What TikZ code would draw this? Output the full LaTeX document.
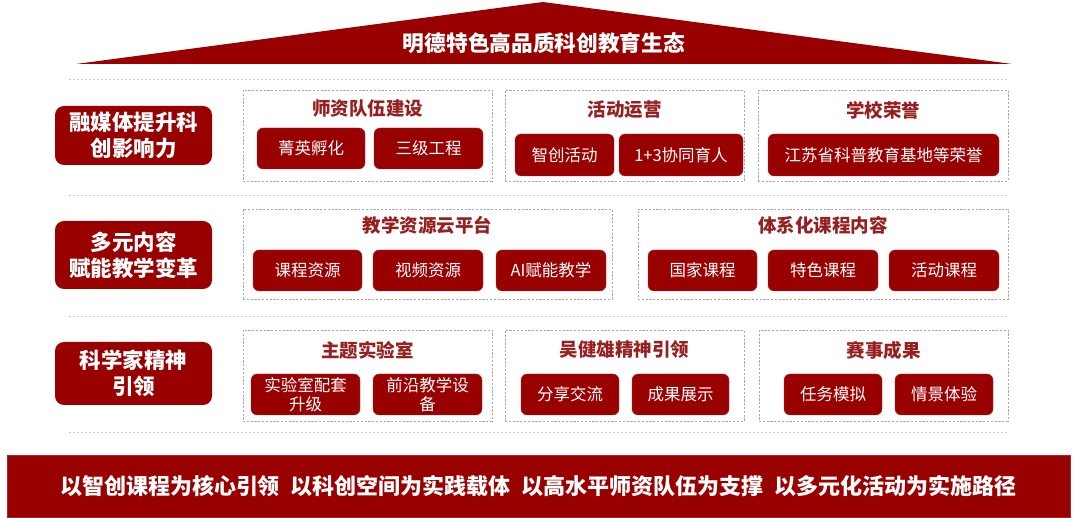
\documentclass[tikz,border=0pt]{standalone}
\usepackage{fontspec}
\setmainfont{Liberation Sans}
\newfontfamily\cjk{Noto Sans CJK SC}
\definecolor{dred}{HTML}{990000}
\definecolor{tred}{HTML}{962020}
\definecolor{sepgray}{HTML}{C8C8C8}
\definecolor{boxgray}{HTML}{A8A8A8}
\tikzset{
  roofpart/.style={fill=dred,draw=none},
  sepline/.style={draw=sepgray,line width=0.9pt,dash pattern=on 2pt off 2pt},
  grpbox/.style={draw=boxgray,line width=0.8pt,dash pattern=on 2.2pt off 1.6pt,inner sep=0pt,rectangle},
  grptitle/.style={text=tred,font=\cjk\bfseries\fontsize{18.5}{22}\selectfont,inner sep=0pt},
  lbl/.style={fill=dred,rounded corners=9pt,inner sep=0pt,text=white,align=center,font=\cjk\bfseries\fontsize{21.5}{26}\selectfont,minimum width=157pt},
  btn/.style={fill=dred,draw=dred!80!white,line width=0.4pt,rounded corners=6pt,inner sep=0pt,text=white,align=center,font=\cjk\fontsize{16.5}{20}\selectfont},
  bar/.style={fill=dred,draw=dred!85!white,line width=0.5pt,inner sep=0pt,text=white,font=\cjk\bfseries\fontsize{22}{26}\selectfont}
}
\begin{document}
\begin{tikzpicture}[x=1pt,y=-1pt]
\useasboundingbox (0,0) rectangle (1080,518);
% roof
\coordinate (roofL) at (76,64);
\coordinate (roofT) at (543,2);
\coordinate (roofR) at (1012,64);
\fill[roofpart] (roofL) -- (roofT) -- (roofR) -- cycle;
\node[text=white,font=\cjk\bfseries\fontsize{21.7}{24}\selectfont,inner sep=0pt] (rooftitle) at (544,43) {明德特色高品质科创教育生态};
% separators
\foreach \yy in {79,195,316,432} {\draw[sepline] (69,\yy) -- (1008,\yy);}
% row 1
\node[lbl,minimum height=59pt] (L1) at (133.5,135.5) {融媒体提升科\\创影响力};
\node[grpbox,minimum width=249pt,minimum height=91pt] (G11) at (367.5,135.5) {};
\node[grptitle] (T11) at (367.5,109) {师资队伍建设};
\node[btn,minimum width=108pt,minimum height=41pt] (B111) at (311,148.5) {菁英孵化};
\node[btn,minimum width=109pt,minimum height=41pt] (B112) at (428.5,148.5) {三级工程};
\node[grpbox,minimum width=239pt,minimum height=91pt] (G12) at (624.5,135.5) {};
\node[grptitle] (T12) at (624.5,110) {活动运营};
\node[btn,minimum width=99pt,minimum height=42pt] (B121) at (564.5,155) {智创活动};
\node[btn,minimum width=124pt,minimum height=42pt] (B122) at (681,155) {1+3协同育人};
\node[grpbox,minimum width=250pt,minimum height=91pt] (G13) at (883,135.5) {};
\node[grptitle] (T13) at (883,110) {学校荣誉};
\node[btn,minimum width=231pt,minimum height=42pt] (B131) at (883.5,155) {江苏省科普教育基地等荣誉};
% row 2
\node[lbl,minimum height=68pt] (L2) at (133.5,255) {多元内容\\赋能教学变革};
\node[grpbox,minimum width=369pt,minimum height=90pt] (G21) at (427.5,254) {};
\node[grptitle] (T21) at (427.5,225) {教学资源云平台};
\node[btn,minimum width=109pt,minimum height=41pt] (B211) at (307.5,270.5) {课程资源};
\node[btn,minimum width=110pt,minimum height=41pt] (B212) at (428,270.5) {视频资源};
\node[btn,minimum width=110pt,minimum height=41pt] (B213) at (551,270.5) {AI赋能教学};
\node[grpbox,minimum width=370pt,minimum height=90pt] (G22) at (823,254) {};
\node[grptitle] (T22) at (823,225) {体系化课程内容};
\node[btn,minimum width=109pt,minimum height=41pt] (B221) at (702.5,270.5) {国家课程};
\node[btn,minimum width=110pt,minimum height=41pt] (B222) at (823,270.5) {特色课程};
\node[btn,minimum width=110pt,minimum height=41pt] (B223) at (944,270.5) {活动课程};
% row 3
\node[lbl,minimum height=63pt] (L3) at (133.5,373.5) {科学家精神\\引领};
\node[grpbox,minimum width=249pt,minimum height=91pt] (G31) at (367.5,375.5) {};
\node[grptitle] (T31) at (367.5,350) {主题实验室};
\node[btn,minimum width=109pt,minimum height=41pt,font=\cjk\fontsize{16.5}{19.5}\selectfont] (B311) at (305.5,394.5) {实验室配套\\升级};
\node[btn,minimum width=109pt,minimum height=41pt,font=\cjk\fontsize{16.5}{19.5}\selectfont] (B312) at (427.5,394.5) {前沿教学设\\备};
\node[grpbox,minimum width=239pt,minimum height=91pt] (G32) at (624.5,375.5) {};
\node[grptitle] (T32) at (624.5,350) {吴健雄精神引领};
\node[btn,minimum width=98pt,minimum height=41pt] (B321) at (570,394.5) {分享交流};
\node[btn,minimum width=97pt,minimum height=41pt] (B322) at (680.5,394.5) {成果展示};
\node[grpbox,minimum width=249pt,minimum height=91pt] (G33) at (883.5,375.5) {};
\node[grptitle] (T33) at (883.5,350) {赛事成果};
\node[btn,minimum width=98pt,minimum height=41pt] (B331) at (833,394.5) {任务模拟};
\node[btn,minimum width=98pt,minimum height=41pt] (B332) at (944,394.5) {情景体验};
% bottom bar
\node[bar,minimum width=1063pt,minimum height=62pt] (BAR) at (538.5,486) {以智创课程为核心引领\hspace{11pt}以科创空间为实践载体\hspace{11pt}以高水平师资队伍为支撑\hspace{11pt}以多元化活动为实施路径};
\end{tikzpicture}
\end{document}
